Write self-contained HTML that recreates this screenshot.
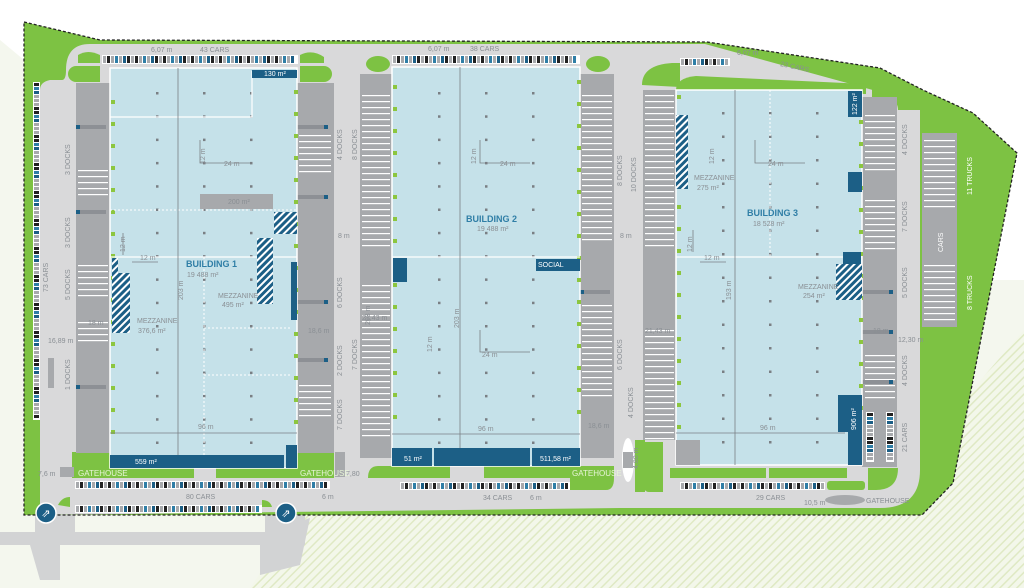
<!DOCTYPE html>
<html><head><meta charset="utf-8"><style>
html,body{margin:0;padding:0;background:#fff;width:1024px;height:588px;overflow:hidden}
svg{display:block;font-family:"Liberation Sans",sans-serif}
.t{fill:#8a8f94;font-size:7px}
.tb{fill:#2f7ea6;font-size:9px;font-weight:bold}
.tw{fill:#fff;font-size:7px}
.tg{fill:#e8f5d8;font-size:8px}
</style></head><body>
<svg id="s" width="1024" height="588" viewBox="0 0 1024 588">
<defs>
<pattern id="hat" width="6" height="6" patternUnits="userSpaceOnUse" patternTransform="rotate(45)"><rect width="6" height="6" fill="#f3f7ea"/><rect width="1.5" height="6" fill="#dfe9c4"/></pattern>
<pattern id="mz" width="5" height="5" patternUnits="userSpaceOnUse" patternTransform="rotate(45)"><rect width="5" height="5" fill="#1c5f86"/><rect width="2" height="5" fill="#fff"/></pattern>
<clipPath id="site"><polygon points="24,22 100,40 707,42 880,68 923,90 973,113 1017,153 953,483 922,515 24,515"/></clipPath>
</defs>
<rect width="1024" height="588" fill="#fff"/>
<rect x="0" y="280" width="1024" height="308" fill="#f4f7ee"/>
<polygon points="0,280 24,280 24,60 0,40" fill="#f4f7ee"/>
<polygon points="800,588 1024,330 1024,588" fill="url(#hat)"/>
<polygon points="250,588 300,515 1024,515 1024,588" fill="url(#hat)"/>
<!-- bottom-left access roads -->
<path d="M0,532 L300,532 Q300,520 310,518 L300,565 L260,575 L260,545 L60,545 L60,580 L40,580 L30,545 L0,545Z" fill="#d2d3d4"/>
<rect x="35" y="505" width="40" height="40" fill="#d2d3d4"/>
<rect x="265" y="505" width="40" height="40" fill="#d2d3d4"/>
<!-- site -->
<polygon points="24,22 100,40 707,42 880,68 923,90 973,113 1017,153 953,483 922,515 24,515" fill="#7dc243"/>
<g clip-path="url(#site)">
<!-- roads -->
<path d="M40,515 L40,90 Q40,82 50,80 L62,80 Q66,80 66,70 Q66,44 90,44 L705,44 L880,92 Q898,98 898,110 L920,110 L920,470 Q920,508 880,508 L620,508 L40,515Z" fill="#d9d9da"/>
<!-- green strips -->
<rect x="24" y="80" width="10" height="435" fill="#7dc243"/>
<rect x="76" y="56" width="258" height="30" fill="#d9d9da"/>
<path d="M76,66 h24 v16 h-24 a8,8 0 0 1 0,-16z" fill="#7dc243"/>
<path d="M300,66 h24 a8,8 0 0 1 0,16 h-24z" fill="#7dc243"/>
<path d="M78,55 q10,-6 22,0 v8 h-22z" fill="#7dc243"/>
<path d="M300,55 q12,-6 24,2 v6 h-24z" fill="#7dc243"/>
<ellipse cx="378" cy="64" rx="12" ry="8" fill="#7dc243"/>
<ellipse cx="598" cy="64" rx="12" ry="8" fill="#7dc243"/>
<path d="M642,85 q0,-20 30,-22 h8 v24z" fill="#7dc243"/>
<path d="M676,90 q0,-12 20,-14 l170,8 v10z" fill="#7dc243"/>
<polygon points="872,84 898,95 898,97 872,97" fill="#7dc243"/>
<rect x="920" y="95" width="110" height="420" fill="#7dc243"/>
<!-- bottom greens -->
<rect x="72" y="452" width="38" height="26" fill="#7dc243"/>
<rect x="110" y="468" width="84" height="10" fill="#7dc243"/>
<rect x="216" y="468" width="118" height="10" fill="#7dc243"/>
<rect x="297" y="452" width="37" height="22" fill="#7dc243"/>
<path d="M58,505 q4,-8 12,-8 v10z" fill="#7dc243"/>
<path d="M262,500 q8,0 10,7 h-10z" fill="#7dc243"/>
<path d="M378,466 h72 v12 h-82 q0,-12 10,-12z" fill="#7dc243"/>
<path d="M484,466 h130 v12 h-130z" fill="#7dc243"/>
<path d="M570,478 h44 q0,12 -8,12 h-36z" fill="#7dc243"/>
<path d="M643,442 h20 v50 h-14 q-6,0 -6,-10z" fill="#7dc243"/>
<rect x="670" y="468" width="96" height="10" fill="#7dc243"/>
<rect x="769" y="468" width="78" height="10" fill="#7dc243"/>
<rect x="827" y="481" width="38" height="9" rx="3" fill="#7dc243"/>
<path d="M868,468 h30 q0,22 -22,22 h-8z" fill="#7dc243"/>
<rect x="635" y="440" width="10" height="52" fill="#7dc243"/>
</g>
<polygon points="24,22 100,40 707,42 880,68 923,90 973,113 1017,153 953,483 922,515 24,515" fill="none" stroke="#222" stroke-width="1.3" stroke-dasharray="3,2"/>
<!-- aprons -->
<rect x="76" y="83" width="34" height="370" fill="#a7a9ac"/>
<rect x="297" y="83" width="37" height="370" fill="#a7a9ac"/>
<rect x="360" y="74" width="32" height="384" fill="#a7a9ac"/>
<rect x="580" y="74" width="34" height="384" fill="#a7a9ac"/>
<rect x="643" y="90" width="33" height="350" fill="#a7a9ac"/>
<rect x="862" y="97" width="35" height="370" fill="#a7a9ac"/>
<rect x="922" y="133" width="35" height="194" fill="#a7a9ac"/>
<g id="dyn"></g>
<!-- buildings -->
<rect x="110" y="68" width="187" height="400" fill="#c5e1e9" stroke="#fff" stroke-width="1.5"/>
<rect x="392" y="67" width="188" height="399" fill="#c5e1e9" stroke="#fff" stroke-width="1.5"/>
<rect x="676" y="90" width="186" height="375" fill="#c5e1e9" stroke="#fff" stroke-width="1.5"/>
<g id="dots"></g>
<g stroke="#fff" stroke-width="1.2" fill="none">
<path d="M110,117 H252 V71"/>
<path d="M110,257 H297"/>
<path d="M392,257 H580"/>
<path d="M676,257 H862"/>
</g>
<g stroke="#fff" stroke-width="1" stroke-dasharray="2,2" fill="none">
<path d="M110,210 H297"/><path d="M204,257 V468"/><path d="M204,328 H290"/><path d="M204,375 H290"/>
<path d="M770,90 V257"/>
</g>
<g stroke="#7a7f84" stroke-width="0.8" fill="none">
<path d="M178,68 V455"/><path d="M110,433 H297"/>
<path d="M460,67 V466"/><path d="M392,434 H580"/>
<path d="M735,90 V465"/><path d="M676,433 H845"/>
<path d="M200,140 V163 H250"/><path d="M480,140 V163 H530"/><path d="M480,330 V352 H530"/>
<path d="M755,140 V163 H805"/><path d="M123,233 V255"/><path d="M132,262 H158"/>
<path d="M693,230 V252"/><path d="M700,262 H726"/>
</g>
<g fill="#1c5f86">
<rect x="110" y="455" width="174" height="13"/><rect x="286" y="445" width="11" height="23"/>
<rect x="252" y="70" width="45" height="8"/><rect x="291" y="262" width="6" height="58"/>
<rect x="392" y="448" width="40" height="18"/><rect x="434" y="448" width="96" height="18"/><rect x="532" y="448" width="48" height="18"/>
<rect x="393" y="258" width="14" height="24"/><rect x="536" y="259" width="44" height="12"/>
<rect x="848" y="91" width="14" height="26"/><rect x="848" y="172" width="14" height="20"/>
<path d="M838,395 h24 v70 h-14 v-33 h-10z"/>
<rect x="843" y="252" width="18" height="12"/>
</g>
<rect x="200" y="194" width="73" height="15" fill="#a7a9ac"/>
<rect x="676" y="440" width="24" height="25" fill="#a7a9ac"/>
<rect x="48" y="358" width="6" height="30" fill="#a7a9ac"/>
<g fill="url(#mz)">
<rect x="274" y="212" width="23" height="22"/><rect x="257" y="238" width="16" height="66"/>
<path d="M112,258 h6 v15 h12 v60 h-18z"/>
<rect x="676" y="115" width="12" height="74"/>
<rect x="836" y="264" width="26" height="36"/>
</g>
<ellipse cx="628" cy="460" rx="6" ry="22" fill="#fff"/><rect x="623" y="452" width="10" height="16" fill="#a7a9ac"/>
<ellipse cx="845" cy="500" rx="20" ry="5" fill="#a7a9ac"/>
<rect x="60" y="467" width="14" height="10" fill="#a7a9ac"/><rect x="335" y="452" width="10" height="25" fill="#a7a9ac"/>
<g><circle cx="46" cy="513" r="10" fill="#1c5f86" stroke="#fff" stroke-width="1.5"/><text x="46" y="517" font-size="11" fill="#fff" text-anchor="middle">⇗</text></g>
<g><circle cx="286" cy="513" r="10" fill="#1c5f86" stroke="#fff" stroke-width="1.5"/><text x="286" y="517" font-size="11" fill="#fff" text-anchor="middle">⇗</text></g>
<text class="tb" x="186" y="267">BUILDING 1</text><text class="t" x="187" y="277">19 488 m²</text>
<text class="tb" x="466" y="222">BUILDING 2</text><text class="t" x="477" y="231">19 488 m²</text>
<text class="tb" x="747" y="216">BUILDING 3</text><text class="t" x="753" y="226">18 528 m²</text>
<text class="t" x="218" y="298">MEZZANINE</text><text class="t" x="222" y="307">495 m²</text>
<text class="t" x="137" y="323">MEZZANINE</text><text class="t" x="138" y="333">376,6 m²</text>
<text class="t" x="694" y="180">MEZZANINE</text><text class="t" x="697" y="190">275 m²</text>
<text class="t" x="798" y="289">MEZZANINE</text><text class="t" x="803" y="298">254 m²</text>
<text class="t" x="224" y="166">24 m</text><text class="t" x="500" y="166">24 m</text><text class="t" x="482" y="357">24 m</text><text class="t" x="768" y="166">24 m</text>
<text class="t" x="140" y="260">12 m</text><text class="t" x="704" y="260">12 m</text>
<text class="t" x="198" y="429">96 m</text><text class="t" x="478" y="431">96 m</text><text class="t" x="760" y="430">96 m</text>
<text class="t" x="151" y="52">6,07 m</text><text class="t" x="200" y="52">43 CARS</text>
<text class="t" x="428" y="51">6,07 m</text><text class="t" x="470" y="51">38 CARS</text>
<text class="t" x="737" y="55">6,07 m</text><text class="t" x="780" y="66" transform="rotate(12 780 66)">23 CARS</text>
<text class="t" x="186" y="499">80 CARS</text><text class="t" x="483" y="500">34 CARS</text><text class="t" x="756" y="500">29 CARS</text>
<text class="t" x="322" y="499">6 m</text><text class="t" x="530" y="500">6 m</text><text class="t" x="804" y="505">10,5 m</text>
<text class="t" x="88" y="325">18 m</text><text class="t" x="48" y="343">16,89 m</text><text class="t" x="308" y="333">18,6 m</text>
<text class="t" x="338" y="238">8 m</text><text class="t" x="620" y="238">8 m</text>
<text class="t" x="362" y="320">21,43 m</text><text class="t" x="645" y="333">21,43 m</text>
<text class="t" x="588" y="428">18,6 m</text><text class="t" x="873" y="333">18 m</text><text class="t" x="898" y="342">12,30 m</text>
<text class="t" x="38" y="476">7,6 m</text><text class="t" x="346" y="476">7,80</text>
<text class="tw" x="135" y="464">559 m²</text><text class="tw" x="404" y="461">51 m²</text><text class="tw" x="540" y="461">511,58 m²</text>
<text class="tw" x="264" y="76" font-size="5">130 m²</text><text class="tw" x="538" y="267" font-size="5">SOCIAL</text>
<text class="t" x="228" y="204" fill="#fff" font-size="5">200 m²</text>
<text class="tg" x="78" y="476">GATEHOUSE</text><text class="tg" x="300" y="476">GATEHOUSE</text>
<text class="tg" x="572" y="476">GATEHOUSE</text><text class="t" x="866" y="503">GATEHOUSE</text>
<g class="t">
<text transform="translate(70,175) rotate(-90)">3 DOCKS</text>
<text transform="translate(70,248) rotate(-90)">3 DOCKS</text>
<text transform="translate(70,300) rotate(-90)">5 DOCKS</text>
<text transform="translate(70,390) rotate(-90)">1 DOCKS</text>
<text transform="translate(48,292) rotate(-90)">73 CARS</text>
<text transform="translate(342,160) rotate(-90)">4 DOCKS</text>
<text transform="translate(357,160) rotate(-90)">8 DOCKS</text>
<text transform="translate(342,308) rotate(-90)">6 DOCKS</text>
<text transform="translate(357,370) rotate(-90)">7 DOCKS</text>
<text transform="translate(342,376) rotate(-90)">2 DOCKS</text>
<text transform="translate(342,430) rotate(-90)">7 DOCKS</text>
<text transform="translate(622,186) rotate(-90)">8 DOCKS</text>
<text transform="translate(636,192) rotate(-90)">10 DOCKS</text>
<text transform="translate(622,370) rotate(-90)">6 DOCKS</text>
<text transform="translate(633,418) rotate(-90)">4 DOCKS</text>
<text transform="translate(907,155) rotate(-90)">4 DOCKS</text>
<text transform="translate(907,232) rotate(-90)">7 DOCKS</text>
<text transform="translate(907,298) rotate(-90)">5 DOCKS</text>
<text transform="translate(907,386) rotate(-90)">4 DOCKS</text>
<text transform="translate(907,452) rotate(-90)">21 CARS</text>
<text transform="translate(370,325) rotate(-90)">203 m</text>
<text transform="translate(183,300) rotate(-90)">203 m</text>
<text transform="translate(459,328) rotate(-90)">203 m</text>
<text transform="translate(731,300) rotate(-90)">193 m</text>
<text transform="translate(205,164) rotate(-90)">12 m</text>
<text transform="translate(476,164) rotate(-90)">12 m</text>
<text transform="translate(432,352) rotate(-90)">12 m</text>
<text transform="translate(714,164) rotate(-90)">12 m</text>
<text transform="translate(125,252) rotate(-90)">12 m</text>
<text transform="translate(692,252) rotate(-90)">12 m</text>
<text transform="translate(638,469) rotate(-90)">4,80 m</text>
</g>
<text class="tw" transform="translate(972,195) rotate(-90)">11 TRUCKS</text>
<text class="tw" transform="translate(972,310) rotate(-90)">8 TRUCKS</text>
<text class="tw" transform="translate(943,252) rotate(-90)" font-size="8">CARS</text>
<text class="tw" transform="translate(857,115) rotate(-90)" font-size="5">122 m²</text>
<text class="tw" transform="translate(856,430) rotate(-90)" font-size="6">906 m²</text>
</svg>
<script>
var NS="http://www.w3.org/2000/svg",dyn=document.getElementById('dyn'),dots=document.getElementById('dots');
function r(g,x,y,w,h,f){var e=document.createElementNS(NS,'rect');e.setAttribute('x',x);e.setAttribute('y',y);e.setAttribute('width',w);e.setAttribute('height',h);e.setAttribute('fill',f);g.appendChild(e);}
var cc=['#1c5f86','#222','#a7a9ac','#a7a9ac','#2f7ea6','#222','#a7a9ac'];
function hrow(x1,x2,y,h){r(dyn,x1,y,x2-x1,h,'#fff');for(var x=x1+1,i=0;x<x2-3;x+=4,i++)r(dyn,x,y+1,3,h-2,cc[(i*5+3)%7]);}
function vrow(x,y1,y2,w){r(dyn,x,y1,w,y2-y1,'#fff');for(var y=y1+1,i=0;y<y2-3;y+=4,i++)r(dyn,x+1,y,w-2,3,cc[(i*3+1)%7]);}
hrow(102,298,55,9);hrow(392,580,55,9);hrow(680,730,58,8);hrow(75,330,481,8);hrow(75,262,505,8);
hrow(400,570,482,8);hrow(680,825,482,8);vrow(33,82,420,7);vrow(866,412,462,8);vrow(886,412,462,8);
function stripes(x,y1,y2,w){for(var y=y1;y<y2;y+=6)r(dyn,x,y,w,1.2,'#fff');}
stripes(78,170,200,30);stripes(78,265,300,30);stripes(78,322,345,30);stripes(299,135,175,32);stripes(299,385,420,32);
stripes(362,95,250,28);stripes(362,285,440,28);stripes(582,95,240,30);stripes(582,305,400,30);
stripes(645,95,250,29);stripes(645,330,440,29);stripes(865,115,170,30);stripes(865,200,250,30);stripes(865,355,400,30);
stripes(924,140,210,31);stripes(924,265,325,31);
[[76,125],[76,210],[76,385],[297,125],[297,195],[297,300],[297,358],[580,290],[862,290],[862,330],[862,380]].forEach(function(p){r(dyn,p[0],p[1],30,4,'#8d9095');r(dyn,p[0]+(p[0]<200||p[0]==580?0:27),p[1],4,4,'#1c5f86');});
function grid(x0,y0,dx,dy,nx,ny){for(var i=0;i<nx;i++)for(var j=0;j<ny;j++)r(dots,x0+i*dx-1,y0+j*dy-1,2.5,2.5,'#7a7f84');}
grid(157,93,47,23.3,3,16);grid(439,93,47,23.3,3,16);grid(723,113,47,23.5,3,15);
var gs=[[111,100,16],[294,90,16],[393,85,16],[577,80,16],[677,95,16],[859,120,14]];
gs.forEach(function(g){for(var k=0;k<g[2];k++)r(dots,g[0],g[1]+k*22,4,4,'#8cc63f');});
</script>
</body></html>
